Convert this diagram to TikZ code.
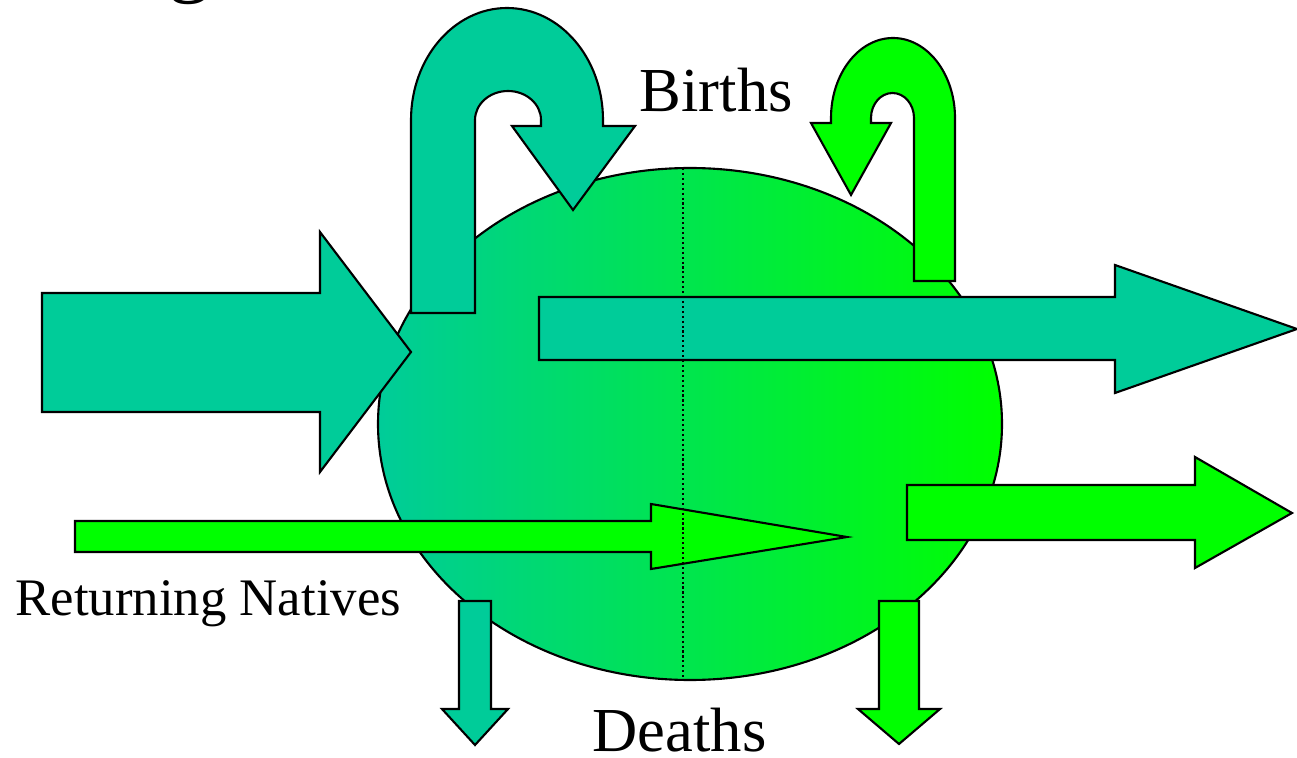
\documentclass[tikz,border=0pt]{standalone}
\usepackage{fontspec}
\setmainfont{Liberation Serif}
\usepackage{tikz}
\usetikzlibrary{positioning}
\definecolor{flowteal}{HTML}{00CC99}
\definecolor{flowgreen}{HTML}{00FF00}

\begin{document}
\begin{tikzpicture}[x=0.01cm, y=-0.01cm,
        tealflow/.style={draw=black, line width=0.6pt, fill=flowteal, line join=miter},
        greenflow/.style={draw=black, line width=0.6pt, fill=flowgreen, line join=miter},
        every node/.style={inner sep=0pt, font=\fontsize{17.8}{20}\selectfont}]
        \useasboundingbox (0,0) rectangle (1297,758);
        % population pool
        \shade[left color=flowteal, right color=flowgreen, draw=black, line width=0.6pt] (690,424) ellipse [x radius=312, y radius=256];
        % inflows
        \draw[tealflow] (42,293) -- (320,293) -- (320,232) -- (411,352) -- (320,472) -- (320,412) -- (42,412) -- cycle;
        \draw[greenflow] (75,521) -- (651,521) -- (651,504) -- (847,537) -- (651,569) -- (651,552) -- (75,552) -- cycle;
        % births loops
        \draw[tealflow] (411,313) -- (475,313) -- (475,120) arc[start angle=180, end angle=360, x radius=33, y radius=29] -- (541,126) -- (512,126) -- (573,210) -- (635,126) -- (603,126) -- (603,120) arc[start angle=0, end angle=-180, x radius=96, y radius=112] -- cycle;
        \draw[greenflow] (914,281) -- (955,281) -- (955,118) arc[start angle=0, end angle=-180, x radius=62, y radius=80] -- (831,123) -- (811,123) -- (851,195) -- (891,123) -- (871,123) -- (871,118) arc[start angle=180, end angle=360, x radius=21.5, y radius=25] -- cycle;
        % outflows
        \draw[tealflow] (539,297) -- (1115,297) -- (1115,265) -- (1297,329) -- (1115,393) -- (1115,360) -- (539,360) -- cycle;
        \draw[greenflow] (907,485) -- (1195,485) -- (1195,457) -- (1292,513) -- (1195,568) -- (1195,540) -- (907,540) -- cycle;
        % deaths
        \draw[tealflow] (459,601) -- (491,601) -- (491,709) -- (508,709) -- (475,745) -- (442,709) -- (459,709) -- cycle;
        \draw[greenflow] (879,601) -- (919,601) -- (919,709) -- (940,709) -- (899,744) -- (858,709) -- (879,709) -- cycle;
        % split line
        \draw[line width=0.5pt, dash pattern=on 0.6pt off 0.8pt] (683,168) -- (683,680);
        % labels
        \node[anchor=base west] (titlefrag) at (168,-13) {\fontsize{24}{28}\selectfont g};
        \node[anchor=base west] (births) at (639,112) {Births};
        \node[anchor=base west] (deaths) at (592,751) {Deaths};
        \node[anchor=base west, font=\fontsize{15}{18}\selectfont] (natives) at (15,615) {Returning Natives};
    \end{tikzpicture}
\end{document}
